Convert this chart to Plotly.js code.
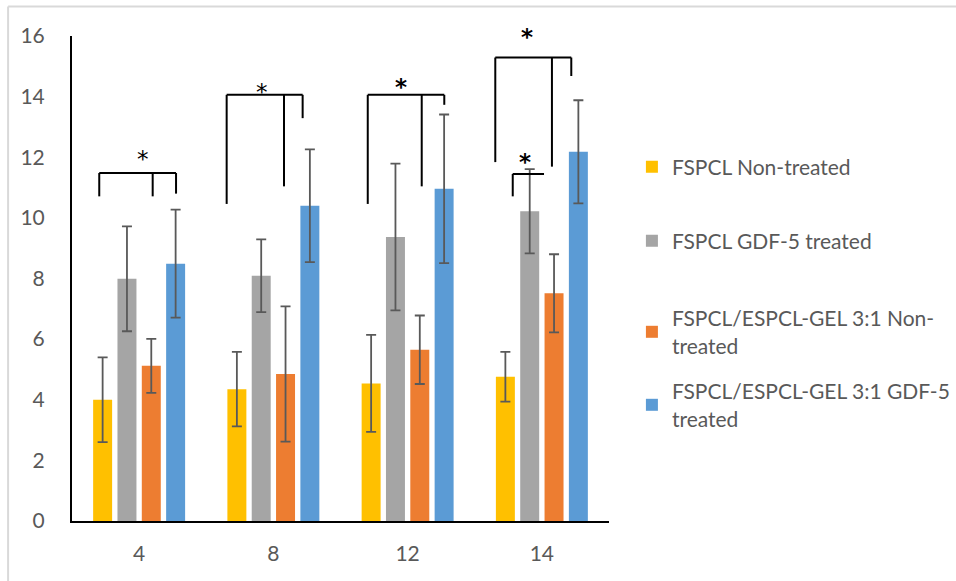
<!DOCTYPE html>
<html>
<head>
<meta charset="utf-8">
<script src="https://cdn.plot.ly/plotly-3.0.1.min.js"></script>
<style>
  html, body { margin: 0; padding: 0; background: #ffffff; }
  #chart { width: 956px; height: 581px; }
</style>
</head>
<body>
<div id="chart"></div>
<script>
// ---- Data ----
const categories = ['4', '8', '12', '14'];

const seriesNames = [
  'FSPCL Non-treated',
  'FSPCL GDF-5 treated',
  'FSPCL/ESPCL-GEL 3:1 Non-<br>treated',
  'FSPCL/ESPCL-GEL 3:1 GDF-5<br>treated'
];

const fspclNonTreated      = [4.00, 4.35, 4.54, 4.76];
const fspclGdf5            = [7.99, 8.09, 9.37, 10.22];
const blendNonTreated      = [5.12, 4.85, 5.65, 7.51];
const blendGdf5            = [8.49, 10.40, 10.96, 12.18];

const errFspclNonTreated   = [1.40, 1.23, 1.60, 0.82];
const errFspclGdf5         = [1.73, 1.20, 2.42, 1.39];
const errBlendNonTreated   = [0.89, 2.23, 1.13, 1.29];
const errBlendGdf5         = [1.78, 1.86, 2.45, 1.70];

const yTickValues = [0, 2, 4, 6, 8, 10, 12, 14, 16];

// ---- Styling ----
const colors = ['#FFC000', '#A5A5A5', '#ED7D31', '#5B9BD5'];
const FONT = 'Lato, "Open Sans", sans-serif';
const TXT = '#595959';

const values = [fspclNonTreated, fspclGdf5, blendNonTreated, blendGdf5];
const errors = [errFspclNonTreated, errFspclGdf5, errBlendNonTreated, errBlendGdf5];
const legendIds = ['legend', 'legend2', 'legend3', 'legend4'];

const traces = values.map((v, i) => ({
  type: 'bar',
  name: seriesNames[i],
  x: categories,
  y: v,
  marker: { color: colors[i], line: { width: 0 } },
  error_y: { type: 'data', array: errors[i], visible: true, color: '#595959', thickness: 1.8, width: 5 },
  legend: legendIds[i],
  hoverinfo: 'y'
}));

function legendAt(yc) {
  return {
    x: 0.661, y: yc, xref: 'container', yref: 'container',
    xanchor: 'left', yanchor: 'middle',
    bgcolor: 'rgba(0,0,0,0)', borderwidth: 0,
    font: { family: FONT, size: 21, color: TXT }
  };
}

// bracket helper: returns line shapes in data coordinates
function seg(x0, y0, x1, y1) {
  return { type: 'line', xref: 'x', yref: 'y', x0: x0, y0: y0, x1: x1, y1: y1,
           line: { color: '#000000', width: 2 } };
}
const shapes = [
  // group 4
  seg(-0.297, 11.48, 0.275, 11.48),
  seg(-0.297, 11.48, -0.297, 10.71),
  seg(0.101, 11.48, 0.101, 10.71),
  seg(0.275, 11.48, 0.275, 10.80),
  // group 8
  seg(0.652, 14.06, 1.218, 14.06),
  seg(0.652, 14.06, 0.652, 10.46),
  seg(1.079, 14.06, 1.079, 11.04),
  seg(1.218, 14.06, 1.218, 13.29),
  // group 12
  seg(1.703, 14.06, 2.273, 14.06),
  seg(1.703, 14.06, 1.703, 10.46),
  seg(2.105, 14.06, 2.105, 11.04),
  seg(2.273, 14.06, 2.273, 13.73),
  // group 14 big
  seg(2.653, 15.29, 3.219, 15.29),
  seg(2.653, 15.29, 2.653, 11.84),
  seg(3.075, 15.29, 3.075, 11.69),
  seg(3.219, 15.29, 3.219, 14.68),
  // group 14 small
  seg(2.783, 11.45, 3.016, 11.45),
  seg(2.783, 11.45, 2.783, 10.71),
  // frame (light gray, top and left)
  { type: 'line', xref: 'paper', yref: 'paper', x0: -0.119, y0: 1.061, x1: 1.66, y1: 1.061,
    line: { color: '#D9D9D9', width: 2 } },
  { type: 'line', xref: 'paper', yref: 'paper', x0: -0.119, y0: 1.061, x1: -0.119, y1: -0.13,
    line: { color: '#D9D9D9', width: 2 } }
];

function star(x, y, bold, yref) {
  return { xref: 'x', yref: yref || 'y', x: x, y: y, text: bold ? '<b>*</b>' : '*', showarrow: false,
           xanchor: 'center', yanchor: 'middle', yshift: -3,
           font: { family: '"DejaVu Sans", sans-serif', size: 23, color: '#000000' } };
}
const annotations = [
  star(0.031, 12.05, false),
  star(0.913, 14.24, false),
  star(1.951, 14.43, true),
  star(2.887, 16.07 / 16, true, 'paper'),
  star(2.877, 11.95, true)
];

const layout = {
  width: 956, height: 581,
  margin: { l: 72, r: 347, t: 36, b: 59.5, pad: 0 },
  paper_bgcolor: '#ffffff', plot_bgcolor: '#ffffff',
  barmode: 'group', bargap: 0.275, bargroupgap: 0.22,
  font: { family: FONT, color: TXT },
  xaxis: {
    type: 'category', categoryorder: 'array', categoryarray: categories,
    range: [-0.5, 3.5],
    showline: true, linecolor: '#000000', linewidth: 2,
    showgrid: false, zeroline: false, ticks: '',
    tickfont: { family: FONT, size: 21, color: TXT },
    ticklabelstandoff: 13
  },
  yaxis: {
    range: [0, 16], tickvals: yTickValues,
    showline: true, linecolor: '#000000', linewidth: 2,
    showgrid: false, zeroline: false, ticks: '',
    tickfont: { family: FONT, size: 21, color: TXT },
    ticklabelstandoff: 21
  },
  legend: legendAt(1 - 167 / 581),
  legend2: legendAt(1 - 241 / 581),
  legend3: legendAt(1 - 332 / 581),
  legend4: legendAt(1 - 405 / 581),
  shapes: shapes,
  annotations: annotations,
  showlegend: true
};

Plotly.newPlot('chart', traces, layout, { displayModeBar: false, staticPlot: true });
</script>
</body>
</html>
